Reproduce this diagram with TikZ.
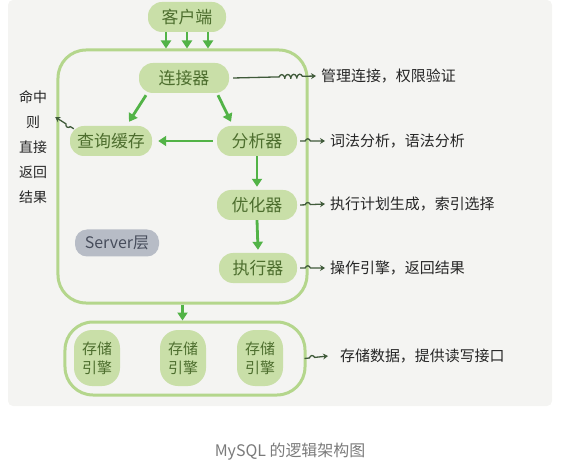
\documentclass[tikz,border=0pt]{standalone}
\usepackage{fontspec}
\setmainfont{Noto Sans CJK SC}
\usetikzlibrary{arrows.meta,decorations.pathmorphing,calc}

\definecolor{panelgray}{HTML}{F4F4F2}
\definecolor{leafgreen}{HTML}{C9DFA8}
\definecolor{boxgreen}{HTML}{B4D68C}
\definecolor{flowgreen}{HTML}{52B347}
\definecolor{nodetext}{HTML}{4D6E2E}
\definecolor{inkgray}{HTML}{262626}
\definecolor{squiggreen}{HTML}{3F5A3A}
\definecolor{layergray}{HTML}{B7BCC6}
\definecolor{layertext}{HTML}{474D5C}
\definecolor{capgray}{HTML}{7A7A7A}

\tikzset{arcnode/.style={fill=leafgreen,text=nodetext,rounded corners=14bp,minimum height=30bp,
           inner sep=2bp,font=\fontsize{17}{19}\selectfont},
         arceng/.style={fill=leafgreen,text=nodetext,rounded corners=18bp,minimum width=46bp,
           minimum height=56bp,align=center,inner sep=2bp,font=\fontsize{15}{19}\selectfont},
         arcbox/.style={draw=boxgreen,line width=3bp,rounded corners=28bp},
         arcflow/.style={draw=flowgreen,line width=2.8bp,-{Triangle[width=10bp,length=8bp]}},
         arcnote/.style={anchor=west,text=inkgray,inner sep=0pt,font=\fontsize{15}{17}\selectfont},
         arcsquig/.style={draw=squiggreen,line width=1.3bp,-{Stealth[length=5bp,width=6bp]},decorate,
           decoration={coil,aspect=0.5,amplitude=2.2bp,segment length=6bp,pre length=#1,post length=9bp}},
         arcsquig/.default=5bp}

\begin{document}
\begin{tikzpicture}[x=1bp,y=-1bp]
  \useasboundingbox (0,0) rectangle (580,468);
  \fill[panelgray,rounded corners=5bp] (8,0) rectangle (552,406);
  % server layer
  \node[arcnode,minimum width=78bp] (client) at (187,17) {客户端};
  \node[arcbox,minimum width=249bp,minimum height=253bp] (server) at (182.5,176.5) {};
  \node[arcnode,minimum width=90bp] (conn) at (184,78) {连接器};
  \node[arcnode,minimum width=82bp] (cache) at (111,141) {查询缓存};
  \node[arcnode,minimum width=80bp] (parser) at (257,141) {分析器};
  \node[arcnode,minimum width=80bp] (optim) at (257,205) {优化器};
  \node[arcnode,minimum width=78bp] (exec) at (258,268) {执行器};
  \node[fill=layergray,text=layertext,rounded corners=12bp,minimum width=84bp,minimum height=27bp,
        inner sep=2bp,font=\fontsize{16}{18}\selectfont] (layer) at (117,243) {Server层};
  % storage layer
  \node[arcbox,minimum width=240bp,minimum height=73bp] (store) at (185,358.5) {};
  \foreach \n/\x in {1/97,2/183,3/260}
    \node[arceng] (eng\n) at (\x,358) {存储\\引擎};
  % notes
  \node[arcnote] (n1) at (321,76) {管理连接，权限验证};
  \node[arcnote] (n2) at (330,141) {词法分析，语法分析};
  \node[arcnote] (n3) at (330,204) {执行计划生成，索引选择};
  \node[arcnote] (n4) at (330,268) {操作引擎，返回结果};
  \node[arcnote] (n5) at (340,356) {存储数据，提供读写接口};
  \node[text=inkgray,align=center,inner sep=0pt,font=\fontsize{14}{25}\selectfont] (hit) at (33,147)
    {命中\\则\\直接\\返回\\结果};
  \node[text=capgray,font=\fontsize{16}{18}\selectfont] (cap) at (290,452) {MySQL 的逻辑架构图};
  % flow
  \foreach \dx in {-21,0,21}
    \draw[arcflow] ([xshift=\dx bp]client.south) -- ([xshift=\dx bp]client.south |- server.north);
  \draw[arcflow] ($(conn.south)+(-38,2)$) -- ($(cache.north)+(18,-4)$);
  \draw[arcflow] ($(conn.south)+(34,2)$) -- ($(parser.north)+(-26,-4)$);
  \draw[arcflow] ([xshift=-4bp]parser.west) -- ([xshift=6bp]cache.east);
  \draw[arcflow] (parser.south) -- ($(optim.north)+(0,-3)$);
  \draw[arcflow] (optim.south) -- ($(exec.north)+(0,-3)$);
  \draw[arcflow] (server.south) -- (server.south |- store.north);
  % squiggles
  \draw[arcsquig=46bp] ([xshift=4bp]conn.east) -- ([xshift=-5bp]n1.west);
  \foreach \a/\b in {parser/n2,optim/n3,exec/n4}
    \draw[arcsquig] ([xshift=3bp]\a.east) -- ([xshift=-5bp]\b.west);
  \draw[arcsquig] ([xshift=-2bp]store.east) -- ([xshift=-12bp]n5.west);
  \draw[arcsquig=4bp] ([shift={(4,3)}]cache.north west) -- ($(hit.east)+(8,-30)$);
\end{tikzpicture}
\end{document}
